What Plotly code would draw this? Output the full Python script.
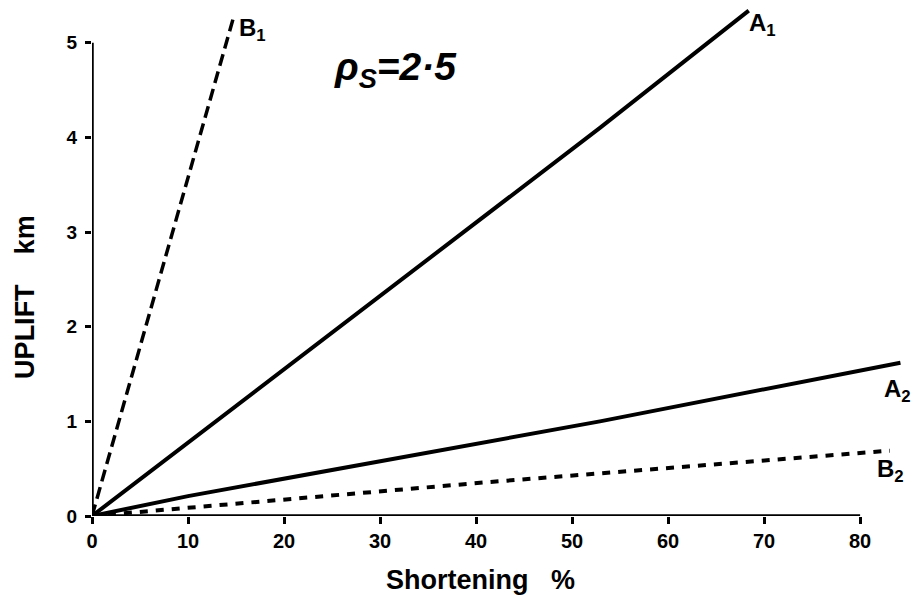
import plotly.graph_objects as go

# Shortening (%) vs uplift (km) for four model curves
a1_x = [0, 52.9, 68.4]
a1_y = [0, 4.10, 5.34]
a2_x = [0, 10, 52.9, 84.2]
a2_y = [0, 0.21, 1.00, 1.62]
b1_x = [0, 14.8]
b1_y = [0, 5.29]
b2_x = [0, 41.5, 83.1]
b2_y = [0, 0.36, 0.69]

x_ticks = [0, 10, 20, 30, 40, 50, 60, 70, 80]
y_ticks = [0, 1, 2, 3, 4, 5]

FONT = "Liberation Sans, Arial, sans-serif"
INK = "black"

fig = go.Figure()
fig.add_trace(go.Scatter(x=a1_x, y=a1_y, mode="lines",
                         line=dict(color=INK, width=4)))
fig.add_trace(go.Scatter(x=a2_x, y=a2_y, mode="lines",
                         line=dict(color=INK, width=4)))
fig.add_trace(go.Scatter(x=b1_x, y=b1_y, mode="lines",
                         line=dict(color=INK, width=3.5, dash="12px,6px")))
fig.add_trace(go.Scatter(x=b2_x, y=b2_y, mode="lines",
                         line=dict(color=INK, width=4, dash="8px,8px")))

# axis frame only spans the labelled ranges
fig.add_shape(type="line", x0=0, y0=0, x1=80, y1=0, xref="x", yref="y",
              line=dict(color=INK, width=3.5), layer="above")
fig.add_shape(type="line", x0=0, y0=0, x1=0, y1=5, xref="x", yref="y",
              line=dict(color=INK, width=3.5), layer="above")

def curve_label(text, x, y):
    fig.add_annotation(x=x, y=y, xref="x", yref="y", text=text, showarrow=False,
                       xanchor="left", yanchor="middle",
                       font=dict(family=FONT, size=24, color=INK, weight="bold"))

curve_label("B<sub>1</sub>", b1_x[-1] + 0.3, 5.14)
curve_label("A<sub>1</sub>", a1_x[-1] - 0.2, 5.19)
curve_label("A<sub>2</sub>", 82.3, 1.33)
curve_label("B<sub>2</sub>", 81.6, 0.48)

fig.add_annotation(x=25, y=4.72, xref="x", yref="y", showarrow=False,
                   text="<i>ρ<sub>S</sub>=2·5</i>", xanchor="left", yanchor="middle",
                   font=dict(family=FONT, size=39, color=INK, weight="bold"))

# axis titles (positions given in pixels, converted below)
fig.add_annotation(x=480, y=580, xref="paper", yref="paper", showarrow=False,
                   xanchor="center", yanchor="middle",
                   text="Shortening\u00a0\u00a0\u00a0%",
                   font=dict(family=FONT, size=27, color=INK, weight="bold"))
fig.add_annotation(x=25, y=297, xref="paper", yref="paper", showarrow=False,
                   xanchor="center", yanchor="middle",
                   text="UPLIFT\u00a0\u00a0\u00a0\u00a0km", textangle=-90,
                   font=dict(family=FONT, size=27, color=INK, weight="bold"))

W, H = 915, 604
x0_px, x_scale = 92, 9.6      # pixels for x = 0, pixels per %
y0_px, y_scale = 516, 94.6    # pixels for y = 0, pixels per km
x_max, y_max = 85.3, 5.42
l = x0_px
r = W - l - x_max * x_scale
t = y0_px - y_max * y_scale
b = H - y0_px

pw, ph = W - l - r, H - t - b
for ann in fig.layout.annotations:
    if ann.xref == "paper":
        px, py = ann.x, ann.y
        ann.x = (px - l) / pw
        ann.y = (H - b - py) / ph

fig.update_layout(
    width=W, height=H,
    margin=dict(l=l, r=r, t=t, b=b),
    paper_bgcolor="white", plot_bgcolor="white",
    showlegend=False,
    xaxis=dict(range=[0, x_max], tickvals=x_ticks, ticktext=[str(v) for v in x_ticks],
               showgrid=False, zeroline=False, showline=False,
               ticks="outside", ticklen=7, tickwidth=2.5, tickcolor=INK,
               ticklabelstandoff=0,
               tickfont=dict(family=FONT, size=20, color=INK, weight="bold")),
    yaxis=dict(range=[0, y_max], tickvals=y_ticks, ticktext=[str(v) for v in y_ticks],
               showgrid=False, zeroline=False, showline=False,
               ticks="outside", ticklen=6, tickwidth=2.5, tickcolor=INK,
               ticklabelstandoff=4,
               tickfont=dict(family=FONT, size=19, color=INK, weight="bold")),
)

fig.write_html("out.html")
